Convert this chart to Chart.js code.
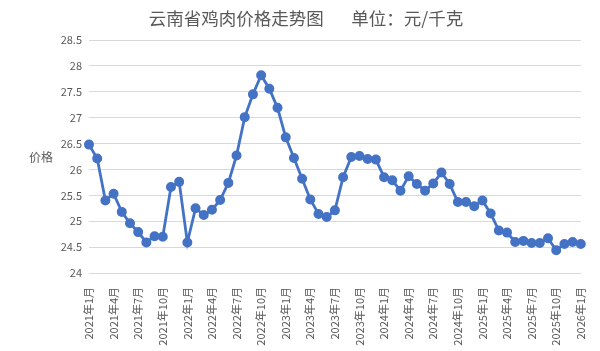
<!DOCTYPE html>
<html>
<head>
<meta charset="utf-8">
<script src="https://cdn.jsdelivr.net/npm/chart.js@4"></script>
<style>
  html, body { margin: 0; padding: 0; background: #fff; }
  #wrap { width: 600px; height: 351px; }
</style>
</head>
<body>
<div id="wrap"><canvas id="priceChart"></canvas></div>
<script>
// ===== Dados =====
const years = [2021, 2022, 2023, 2024, 2025, 2026];
const months = [];
years.forEach(y => {
    for (let m = 1; m <= 12; m++) {
        if (y === 2026 && m > 1) break;
        months.push(y + '年' + m + '月');
    }
});

const prices = [
    26.48, 26.21, 25.40, 25.53, 25.18, 24.96, 24.79, 24.59, 24.71, 24.70, 25.66, 25.76,
    24.59, 25.25, 25.12, 25.22, 25.41, 25.74, 26.27, 27.01, 27.45, 27.82, 27.56, 27.19,
    26.62, 26.22, 25.82, 25.42, 25.14, 25.08, 25.21, 25.85, 26.24, 26.26, 26.20, 26.19,
    25.85, 25.79, 25.59, 25.87, 25.72, 25.59, 25.73, 25.94, 25.72, 25.37, 25.37, 25.29,
    25.40, 25.15, 24.82, 24.78, 24.60, 24.62, 24.58, 24.58, 24.67, 24.44, 24.56, 24.60,
    24.56
];

const yTicks = [24, 24.5, 25, 25.5, 26, 26.5, 27, 27.5, 28, 28.5];

const titulo = '云南省鸡肉价格走势图       单位：元/千克';
const corTexto = '#595959';
const fonteCJK = '"Noto Sans CJK SC", "Noto Sans", sans-serif';

// ===== Título e rótulo do eixo Y =====
const textosExtras = {
    id: 'textosExtras',
    afterDraw(chart) {
        const ctx = chart.ctx;
        ctx.save();
        ctx.fillStyle = corTexto;
        ctx.textAlign = 'center';
        ctx.textBaseline = 'middle';
        ctx.font = '17.5px ' + fonteCJK;
        ctx.fillText(titulo, 306, 18);
        ctx.font = '12px ' + fonteCJK;
        ctx.fillText('价格', 41, 157);
        ctx.restore();
    }
};

// ===== Gráfico =====
const ctx = document.getElementById('priceChart').getContext('2d');
new Chart(ctx, {
    type: 'line',
    data: {
        labels: months,
        datasets: [{
            data: prices,
            borderColor: '#4472C4',
            backgroundColor: '#4472C4',
            borderWidth: 2.8,
            pointRadius: 3.6,
            pointHoverRadius: 3.6,
            tension: 0
        }]
    },
    options: {
        responsive: true,
        maintainAspectRatio: false,
        animation: false,
        layout: { padding: { left: 0, right: 18, top: 40, bottom: 0 } },
        plugins: {
            legend: { display: false },
            tooltip: { enabled: false },
            title: { display: false }
        },
        scales: {
            x: {
                offset: false,
                grid: { display: false },
                border: { display: false },
                ticks: {
                    autoSkip: false,
                    maxRotation: 90,
                    minRotation: 90,
                    padding: 6,
                    color: corTexto,
                    font: { family: fonteCJK, size: 11 },
                    callback: function (val, i) {
                        return i % 3 === 0 ? months[i] : '';
                    }
                },
                afterFit: function (scale) { scale.height = 78; }
            },
            y: {
                min: 24,
                max: 28.5,
                afterBuildTicks: function (scale) {
                    scale.ticks = yTicks.map(v => ({ value: v }));
                },
                grid: { color: '#D9D9D9', drawTicks: false },
                border: { display: false },
                ticks: {
                    padding: 7,
                    color: corTexto,
                    font: { family: fonteCJK, size: 11 },
                    callback: function (v) { return String(v); }
                },
                afterFit: function (scale) { scale.width = 89; }
            }
        }
    },
    plugins: [textosExtras]
});
</script>
</body>
</html>
